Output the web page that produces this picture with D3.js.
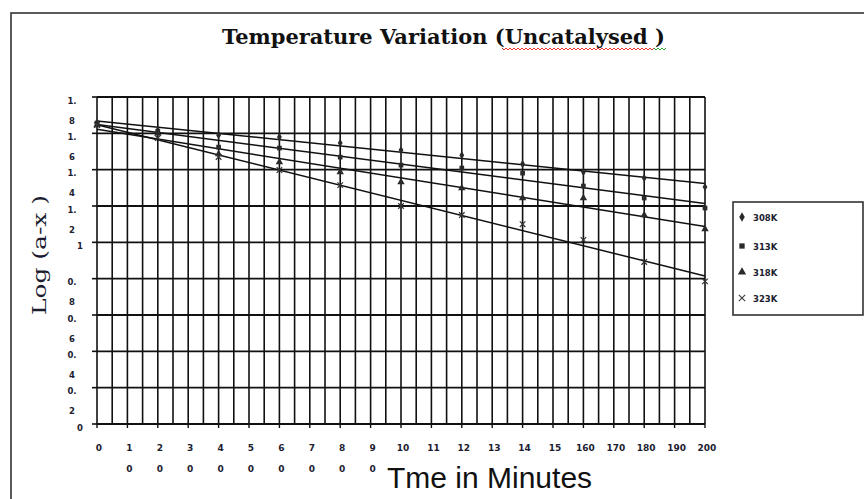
<!DOCTYPE html>
<html>
<head>
<meta charset="utf-8">
<script src="https://cdn.jsdelivr.net/npm/d3@7"></script>
<style>
  body { margin: 0; background: #fff; }
  svg { display: block; }
</style>
</head>
<body>
<script>
// data: log(a-x) against time in minutes
const minutes = [0, 20, 40, 60, 80, 100, 120, 140, 160, 180, 200];
const seriesNames = ["308K", "313K", "318K", "323K"];
const k308 = [1.657, 1.618, 1.590, 1.580, 1.547, 1.508, 1.480, 1.431, 1.387, 1.354, 1.305];
const k313 = [1.657, 1.610, 1.524, 1.519, 1.469, 1.425, 1.409, 1.381, 1.310, 1.244, 1.189];
const k318 = [1.646, 1.600, 1.486, 1.442, 1.387, 1.332, 1.299, 1.244, 1.244, 1.150, 1.073];
const k323 = [1.646, 1.574, 1.470, 1.398, 1.315, 1.200, 1.150, 1.100, 1.013, 0.892, 0.785];

// tick labels, wrapped the way the original shows them
const xTickValues = [0, 10, 20, 30, 40, 50, 60, 70, 80, 90, 100, 110, 120, 130, 140, 150, 160, 170, 180, 190, 200];
const xTickLabels = ["0", "1\n0", "2\n0", "3\n0", "4\n0", "5\n0", "6\n0", "7\n0", "8\n0", "9\n0", "10\n0",
  "11\n0", "12\n0", "13\n0", "14\n0", "15\n0", "160", "170", "180", "190", "200"];
const yTickValues = [0, 0.2, 0.4, 0.6, 0.8, 1.0, 1.2, 1.4, 1.6, 1.8];
const yTickLabels = ["0", "0.\n2", "0.\n4", "0.\n6", "0.\n8", "1", "1.\n2", "1.\n4", "1.\n6", "1.\n8"];

const width = 864, height = 499;
const plot = { left: 97, right: 705, top: 97, bottom: 424 };
const titleBox = { x: 383, y: 456, w: 218, h: 40 }; // white box under the x axis title

const svg = d3.select("body").append("svg")
  .attr("width", width).attr("height", height);

// outer frame of the chart object
svg.append("rect")
  .attr("x", 11).attr("y", 13)
  .attr("width", 880).attr("height", 520)
  .attr("fill", "#fff").attr("stroke", "#333").attr("stroke-width", 1.6);

const x = d3.scaleLinear().domain([0, 200]).range([plot.left, plot.right]);
const y = d3.scaleLinear().domain([0, 1.8]).range([plot.bottom, plot.top]);

// grid: vertical every 5 min, horizontal every 0.2
svg.append("g").selectAll("line")
  .data(d3.range(0, 201, 5))
  .join("line")
  .attr("x1", d => x(d)).attr("x2", d => x(d))
  .attr("y1", plot.top).attr("y2", plot.bottom)
  .attr("stroke", "#111").attr("stroke-width", 1.6);

svg.append("g").selectAll("line")
  .data(yTickValues)
  .join("line")
  .attr("x1", plot.left).attr("x2", plot.right)
  .attr("y1", d => y(d)).attr("y2", d => y(d))
  .attr("stroke", "#111").attr("stroke-width", 1.8);

// axis ticks
svg.append("g").selectAll("line")
  .data(yTickValues)
  .join("line")
  .attr("x1", plot.left - 5).attr("x2", plot.left)
  .attr("y1", d => y(d)).attr("y2", d => y(d))
  .attr("stroke", "#111").attr("stroke-width", 1.6);

svg.append("g").selectAll("line")
  .data(xTickValues)
  .join("line")
  .attr("x1", d => x(d)).attr("x2", d => x(d))
  .attr("y1", plot.bottom).attr("y2", plot.bottom + 4)
  .attr("stroke", "#111").attr("stroke-width", 1.4);

// tick labels
const tickFont = "'DejaVu Sans', Verdana, sans-serif";

svg.append("g").selectAll("text")
  .data(yTickValues)
  .join("text")
  .attr("text-anchor", "middle")
  .style("font-family", tickFont).style("font-size", "8.5px").style("font-weight", "bold")
  .attr("fill", "#1c1c30")
  .each(function (d, i) {
    const lines = yTickLabels[i].split("\n");
    const t = d3.select(this);
    const cx = lines.length > 1 ? 72 : 80;
    lines.forEach((s, j) => {
      t.append("tspan").attr("x", cx).attr("y", y(d) + 6.5 + j * 20).text(s);
    });
  });

svg.append("g").selectAll("text")
  .data(xTickValues)
  .join("text")
  .attr("text-anchor", "middle")
  .style("font-family", tickFont).style("font-size", "9px").style("font-weight", "bold")
  .attr("fill", "#1c1c30")
  .each(function (d, i) {
    const lines = xTickLabels[i].split("\n");
    const t = d3.select(this);
    lines.forEach((s, j) => {
      const lx = x(d) + 2, ly = 451 + j * 21;
      // the second row is hidden behind the axis title box
      if (lx > titleBox.x && lx < titleBox.x + titleBox.w && ly > titleBox.y) return;
      t.append("tspan").attr("x", lx).attr("y", ly).text(s);
    });
  });

// trendlines (least squares) and markers
const allSeries = [k308, k313, k318, k323];
const symbols = [d3.symbolDiamond, d3.symbolSquare, d3.symbolTriangle, d3.symbolX];
const sizes = [20, 22, 24, 22];

function fit(vals) {
  const mx = d3.mean(minutes), my = d3.mean(vals);
  let sxy = 0, sxx = 0;
  minutes.forEach((m, i) => { sxy += (m - mx) * (vals[i] - my); sxx += (m - mx) * (m - mx); });
  const b = sxy / sxx;
  return { a: my - b * mx, b };
}

const line = d3.line().x(d => x(d[0])).y(d => y(d[1]));

allSeries.forEach((vals) => {
  const f = fit(vals);
  svg.append("path")
    .attr("d", line([[0, f.a], [200, f.a + f.b * 200]]))
    .attr("fill", "none").attr("stroke", "#111").attr("stroke-width", 1.5);
});

allSeries.forEach((vals, si) => {
  svg.append("g").selectAll("path")
    .data(minutes)
    .join("path")
    .attr("transform", (m, i) => `translate(${x(m)},${y(vals[i])})`)
    .attr("d", d3.symbol().type(symbols[si]).size(sizes[si]))
    .attr("fill", si === 3 ? "none" : "#2a2a2a")
    .attr("stroke", si === 3 ? "#333" : "none")
    .attr("stroke-width", 1.2);
});

// chart title with the spell-check squiggle
svg.append("text")
  .attr("x", 222).attr("y", 44)
  .attr("textLength", 443).attr("lengthAdjust", "spacingAndGlyphs")
  .style("font-family", "'DejaVu Serif', serif").style("font-size", "19.5px").style("font-weight", "bold")
  .attr("fill", "#111")
  .text("Temperature Variation (Uncatalysed )");

function squiggle(x0, x1, yy) {
  let d = `M${x0},${yy}`;
  for (let xx = x0, k = 0; xx < x1; xx += 2, k++) d += `L${xx + 2},${yy + (k % 2 ? 0 : 2)}`;
  return d;
}
svg.append("path").attr("d", squiggle(502, 654, 48))
  .attr("fill", "none").attr("stroke", "#e02020").attr("stroke-width", 0.9);
svg.append("path").attr("d", squiggle(654, 666, 48))
  .attr("fill", "none").attr("stroke", "#20a020").attr("stroke-width", 0.9);

// y axis title
svg.append("text")
  .attr("transform", "translate(46,255) rotate(-90)")
  .attr("text-anchor", "middle")
  .attr("textLength", 120).attr("lengthAdjust", "spacingAndGlyphs")
  .style("font-family", "'DejaVu Serif', serif").style("font-size", "19px")
  .attr("fill", "#1c1c30")
  .text("Log (a-x )");

// x axis title sits on a white box that hides the second label row
svg.append("rect")
  .attr("x", titleBox.x).attr("y", titleBox.y).attr("width", titleBox.w).attr("height", titleBox.h)
  .attr("fill", "#fff");
svg.append("text")
  .attr("x", 387).attr("y", 488)
  .style("font-family", "'Liberation Sans', Arial, sans-serif").style("font-size", "30px")
  .attr("fill", "#111")
  .text("Tme in Minutes");

// legend
svg.append("rect")
  .attr("x", 733).attr("y", 202).attr("width", 130).attr("height", 113)
  .attr("fill", "#fff").attr("stroke", "#333").attr("stroke-width", 1.6);

const legendY = [217, 246, 272, 298];
seriesNames.forEach((name, si) => {
  svg.append("path")
    .attr("transform", `translate(742,${legendY[si]})`)
    .attr("d", d3.symbol().type(symbols[si]).size(sizes[si] + 6))
    .attr("fill", si === 3 ? "none" : "#2a2a2a")
    .attr("stroke", si === 3 ? "#444" : "none")
    .attr("stroke-width", 1.2);
  svg.append("text")
    .attr("x", 753).attr("y", legendY[si] + 3.5)
    .style("font-family", tickFont).style("font-size", "8.5px").style("font-weight", "bold")
    .attr("fill", "#1c1c30")
    .text(name);
});
</script>
</body>
</html>
